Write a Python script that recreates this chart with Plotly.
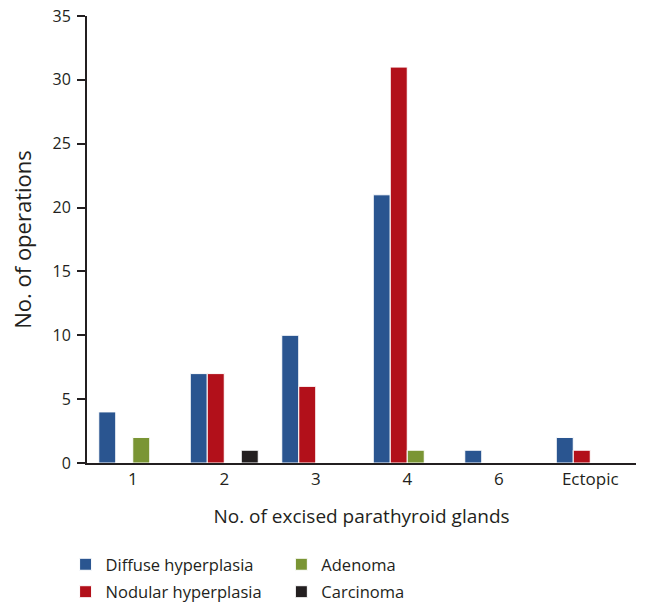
import plotly.graph_objects as go

categories = ["1", "2", "3", "4", "6", "Ectopic"]
diffuse = [4, 7, 10, 21, 1, 2]
nodular = [0, 7, 6, 31, 0, 1]
adenoma = [2, 0, 0, 1, 0, 0]
carcinoma = [0, 1, 0, 0, 0, 0]

series = [
    ("Diffuse hyperplasia", diffuse, "#2a5590", "legend"),
    ("Nodular hyperplasia", nodular, "#b2101a", "legend"),
    ("Adenoma", adenoma, "#7a9534", "legend2"),
    ("Carcinoma", carcinoma, "#231f20", "legend2"),
]

FONT = "Open Sans"
TXT = "#231f20"

fig = go.Figure()
for name, vals, color, lg in series:
    fig.add_trace(go.Bar(
        x=categories, y=vals, name=name,
        marker=dict(color=color, line=dict(color="white", width=1)),
        legend=lg, legendgroup=name,
    ))

legend_common = dict(
    orientation="v",
    font=dict(family=FONT, size=16.5, color=TXT),
    bgcolor="rgba(0,0,0,0)",
    xanchor="left", yanchor="top",
    tracegroupgap=3,
    itemwidth=30,
)

fig.update_layout(
    width=646, height=604,
    margin=dict(l=87, r=10, t=16, b=141, autoexpand=False),
    paper_bgcolor="white", plot_bgcolor="white",
    barmode="group", bargap=0.257, bargroupgap=0,
    font=dict(family=FONT, color=TXT),
    legend=dict(x=-0.039, y=-0.188, **legend_common),
    legend2=dict(x=0.354, y=-0.188, **legend_common),
    xaxis=dict(
        automargin=False,
        showline=True, linecolor=TXT, linewidth=2,
        ticks="", tickfont=dict(family=FONT, size=17, color=TXT),
        title=dict(text="No. of excised parathyroid glands",
                   font=dict(family=FONT, size=19, color=TXT), standoff=20),
    ),
    yaxis=dict(
        automargin=False,
        range=[0, 35], dtick=5,
        showline=True, linecolor=TXT, linewidth=2,
        ticks="outside", ticklen=8, tickwidth=2, tickcolor=TXT,
        ticklabelstandoff=3,
        showgrid=False, zeroline=False,
        tickfont=dict(family=FONT, size=16, color=TXT),
        title=dict(text="No. of operations",
                   font=dict(family=FONT, size=22, color=TXT), standoff=15),
    ),
)

fig.write_html("out.html", config={"displayModeBar": False},
               post_script="document.body.style.margin='0';")
